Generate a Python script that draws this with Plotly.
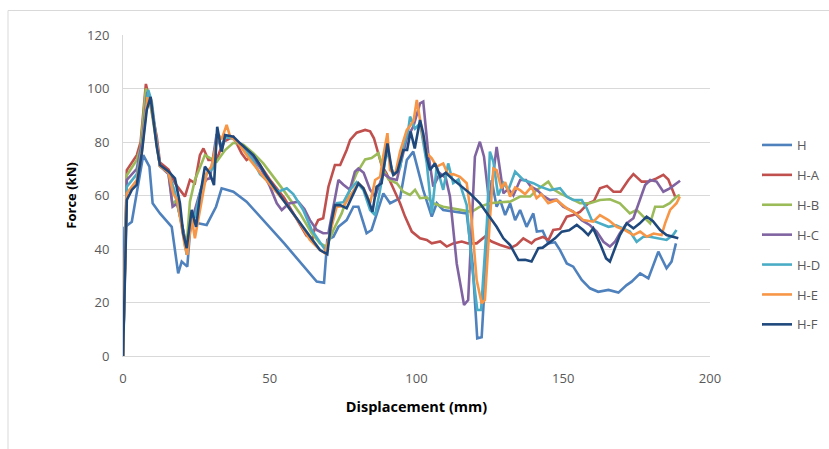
import plotly.graph_objects as go

# ---- data ----
series_names = ["H", "H-A", "H-B", "H-C", "H-D", "H-E", "H-F"]
series_colors = ["#4F81BD", "#C0504D", "#9BBB59", "#8064A2", "#4BACC6", "#F79646", "#1F497D"]

h_x = [0, 0.5, 3, 6.9, 9.0, 10.1, 12.6, 16.6, 18.8, 20.0, 21.9, 23.1, 28.5, 31.7, 33.6, 37.6, 42.1, 46.7, 55, 66, 68.5, 69.6, 71.7, 73.4, 76.2, 78.5, 80.2, 83.0, 84.7, 88.7, 91.0, 94.4, 96.7, 98.9, 102.3, 105.2, 106.9, 109.1, 113.7, 117.1, 119.1, 120.7, 122.2, 124.5, 125.6, 127.3, 128.5, 130.2, 131.9, 133.6, 135.3, 137.5, 139.8, 141.0, 143, 144.9, 147.2, 148.9, 151.2, 153.4, 156.3, 159.1, 161.9, 165.4, 168.8, 171.6, 173.3, 176.2, 179.0, 182.4, 185.2, 186.9, 188.4]
h_y = [0, 48, 50.2, 75.1, 70.8, 57.1, 53.3, 48.3, 30.9, 35.3, 33.4, 50.2, 49, 55.8, 62.7, 61.4, 57.7, 52.1, 42, 27.8, 27.4, 43.4, 44.6, 48.3, 50.8, 55.8, 55.8, 45.9, 47.1, 60.8, 57.1, 59, 73.3, 76.4, 62, 52.1, 57.1, 54.6, 53.9, 53.3, 34.6, 6.6, 7, 50.8, 65.8, 55.8, 58.3, 52.7, 57.1, 50.8, 54.6, 48.3, 53.3, 46.5, 46.8, 42.1, 42.5, 39.6, 34.6, 33.4, 28.4, 25.3, 24, 24.7, 23.7, 26.5, 27.8, 30.9, 29, 39, 32.8, 35.3, 42.1]

ha_x = [0, 1.3, 4.7, 6, 7.8, 9, 11.5, 12.6, 15.5, 17.7, 19.4, 21.1, 22.8, 24.5, 26.2, 27.4, 29.1, 31.9, 34.2, 37.6, 40.4, 42.1, 44.4, 46.7, 50, 55, 60, 62.5, 64.5, 65.4, 66.5, 68.2, 70, 72.2, 74, 76.2, 77.4, 79.6, 82.5, 84.2, 85.5, 88.1, 89.8, 92.1, 94.4, 96.1, 98.4, 101.2, 103.5, 105.2, 108.1, 110.3, 112.5, 115.4, 117.6, 120.5, 123.3, 125.6, 128.5, 131.9, 134.1, 136.4, 139.2, 140.4, 143, 145, 146.6, 148.9, 151.2, 153.4, 155.7, 158.5, 160.5, 162.5, 164.9, 167.1, 169.5, 172.2, 173.9, 176.7, 179, 181.8, 184.1, 185.8, 188.1]
ha_y = [0, 69.5, 75.1, 80, 101.7, 96, 82, 72.3, 69.7, 64.6, 62.1, 59.6, 65.8, 64.6, 75.1, 77.6, 73.3, 73.3, 80.1, 82, 75.8, 73.3, 75.1, 71.4, 66, 59, 50, 45, 43.5, 48.3, 50.8, 51.5, 63.3, 71.4, 71.4, 77, 80.8, 83.5, 84.5, 84, 81.4, 71.4, 68.2, 62.7, 57.1, 52.1, 46.5, 44, 43.4, 42.1, 42.8, 40.9, 42.1, 42.8, 42.1, 42.1, 44.6, 42.8, 41.5, 40.3, 41.5, 44, 42.1, 43.4, 44.5, 43.4, 47.1, 47.5, 52.1, 52.7, 53.9, 57.1, 58, 62.7, 63.6, 61.4, 61.4, 65.8, 68, 65.2, 65.2, 66.4, 67.7, 66, 59.6]

hb_x = [0, 1.3, 4.7, 6, 7.8, 9, 11.5, 12.6, 15.5, 16.9, 18.1, 20.2, 21.7, 22.8, 24.5, 27.9, 29.7, 31.9, 34.8, 37.6, 41, 44.4, 47.8, 54.6, 60.3, 64.3, 67.1, 69.4, 71.7, 74.5, 77.3, 79.6, 82.5, 84.7, 87, 88.7, 90.5, 93.3, 95.5, 97.8, 99.5, 101.2, 103.5, 105.7, 109.1, 112.5, 116, 118.8, 121.6, 125, 128.5, 131.9, 135.3, 138.7, 141, 143.2, 144.9, 146.6, 148.9, 152.3, 155.7, 159.1, 162.5, 165.9, 169.3, 172.7, 175, 177.3, 179.6, 181.3, 184.1, 186.3, 188.6, 189.7]
hb_y = [0, 67.6, 73.3, 78, 100, 96.5, 79, 71, 68.5, 56.4, 58.3, 48, 41.5, 57.7, 65.8, 75.1, 73.9, 72.6, 77, 79.7, 79, 75.8, 72, 62.1, 53.3, 45.9, 42.1, 40.9, 47.1, 53.3, 62.1, 68.3, 73.5, 74, 75.8, 69.5, 66, 64.6, 61.4, 60.2, 62.1, 59, 59.3, 57.1, 55.8, 55.2, 54.6, 53.9, 55.8, 57.1, 57.5, 57.7, 59.6, 59.6, 62.1, 63.9, 65.2, 62.3, 60.8, 59, 57.1, 57.1, 58.3, 58.6, 57.1, 53.3, 54.6, 52.1, 49.6, 55.8, 55.8, 57.1, 59.6, 60.2]

hc_x = [0, 1.3, 4.7, 6.5, 8.3, 9.5, 11.5, 12.6, 15.5, 16.9, 18.5, 20.5, 21.7, 23, 24.5, 26.8, 28.5, 29.6, 31.9, 33.6, 34.8, 37.6, 40, 44.4, 47, 50, 52.4, 54.1, 56.5, 59.7, 61.8, 63.7, 66, 68.2, 70, 71.7, 73.4, 75.1, 77.3, 79, 80.2, 82, 84.2, 85.9, 88.7, 91, 93.3, 96.7, 98.9, 101.2, 102.3, 104, 105.7, 108, 110, 111.4, 113.7, 116.2, 117.6, 119.9, 121.6, 123, 124.5, 125.5, 127.3, 129.6, 131.3, 133, 135.3, 137.3, 139, 141, 143, 145.5, 147.7, 150, 153.4, 156.3, 159.1, 161.4, 163.7, 165.9, 167.6, 169.3, 171.6, 173.9, 176.2, 177.9, 179.6, 181.8, 184.1, 186.3, 189.8]
hc_y = [0, 65.8, 70, 80, 98.7, 95, 80, 71, 68, 55.8, 57, 47, 39.4, 48, 54.6, 63.3, 66.1, 66.4, 83, 77, 82, 81.5, 78.5, 74, 70, 63.5, 57.1, 54.6, 57, 57.7, 55, 50.8, 47.1, 45.9, 46, 55.8, 65.8, 64, 62.1, 68.9, 70.1, 68.5, 62.1, 59.6, 68.2, 66.4, 65.8, 81.4, 85.7, 94.4, 95.1, 75.8, 63.3, 68.3, 66.5, 59.6, 34.6, 19.1, 20.9, 74.5, 80.1, 74.5, 60, 62, 78.2, 60.8, 62.5, 60, 65.8, 65.8, 63.3, 62.1, 60, 58.3, 58.5, 55.8, 54, 50.8, 48.9, 46.5, 42.7, 40.9, 42.7, 45.9, 49.6, 51.5, 58.3, 63.9, 65.8, 65.2, 61.4, 62.7, 65.5]

hd_x = [0, 1.3, 4.7, 6.5, 8.6, 9.8, 11.5, 12.6, 15.5, 17.5, 19.5, 21.7, 23, 24.5, 26.5, 28.5, 30.5, 32.1, 33.6, 35, 38, 41, 44.4, 46.7, 50.1, 52.9, 55.8, 58, 61.4, 64.3, 67.1, 69.4, 71.1, 72.8, 75.1, 77.3, 79.6, 81.9, 84.2, 85.9, 87.6, 89.9, 92.1, 94.4, 95.5, 97.2, 97.8, 99.5, 101.2, 103.5, 105.2, 106.9, 109.1, 110.8, 112.5, 114.3, 117.1, 118.8, 120.7, 122, 124, 125, 126.2, 127.8, 129.6, 131.3, 133.6, 136.4, 139.8, 142.1, 145.5, 148.9, 151.2, 153.4, 156.3, 158, 159.7, 162.5, 165.4, 168, 170.5, 172.7, 175, 177.3, 179.5, 181.8, 185.2, 187.4, 188.6]
hd_y = [0, 63.3, 68, 78, 99.5, 95, 80, 71, 68.5, 62, 52, 37.8, 50, 52, 62, 68, 70, 83, 78, 82, 81, 78, 73, 68, 64.6, 61.4, 62.7, 60.5, 54.6, 47.1, 42.5, 39, 49.6, 57.1, 57.5, 62.1, 65, 62.1, 54.6, 52.7, 62.1, 77, 67.7, 70.5, 78.2, 84.5, 89.5, 85, 87, 72, 53.3, 70.8, 62.1, 72, 64.6, 66, 56.4, 34.6, 17.2, 17.2, 50, 76.4, 72.6, 60, 64.6, 62.1, 68.9, 65.8, 64.6, 63.3, 62, 62.7, 59.6, 58.3, 58.3, 55.2, 50.8, 49.6, 48.3, 48.8, 47.7, 46.5, 42.7, 44.6, 44.6, 44, 43.4, 45.2, 47.1]

he_x = [0, 1.3, 4.7, 6.5, 8.3, 9.5, 11.5, 12.6, 15.5, 17.1, 18.5, 21.1, 21.9, 23.4, 24.5, 26.2, 28.5, 30.2, 32.5, 33.6, 35.3, 36.5, 39, 43.3, 47.8, 54.6, 60.3, 63.7, 67.1, 68.8, 71, 72.8, 75.1, 77.3, 80.2, 82, 84.2, 85.9, 87.6, 88.7, 90.1, 91, 92.7, 94.4, 96.7, 97.8, 99, 100.1, 101, 101.8, 103.5, 105.2, 106.9, 109.1, 110.8, 112.5, 114.8, 117.1, 118.8, 120.5, 122.2, 123.3, 125, 126.2, 127.3, 128.9, 130.2, 131.9, 133.6, 135.3, 137, 139.2, 140.9, 142.5, 144.9, 147.7, 151.2, 154, 156.8, 160.2, 162.5, 165.4, 168.2, 171, 173.9, 176.2, 178.5, 180.8, 183.5, 184.7, 186.4, 188.6, 189.7]
he_y = [0, 60.8, 65.8, 77, 96.3, 96, 79, 71, 68.5, 60.8, 58, 40.9, 37.8, 51.5, 44, 53.9, 68.3, 71, 82.9, 81, 86.4, 82, 80, 73.3, 67, 58.3, 49.6, 43.4, 39.6, 38.4, 48, 55.8, 56, 59.6, 64.6, 62.7, 57.1, 65.8, 67, 75, 83.3, 69.5, 67.7, 76.4, 84.5, 86, 88, 95.7, 90, 84.5, 75.8, 73.9, 70.8, 72, 67.7, 68, 67, 64.6, 50.8, 28.4, 19.7, 21, 50.8, 70.1, 69.5, 62.7, 65, 59.6, 63, 62, 60.5, 63.3, 59, 60.5, 57.1, 58.3, 55.2, 53.5, 50.8, 50.2, 52.7, 50.8, 48.3, 47.1, 45.2, 46.5, 44.6, 45.8, 45.2, 49.6, 54.6, 57.1, 59.6]

hf_x = [0, 1.3, 3, 4.7, 6.4, 8.1, 9.4, 10.4, 11.5, 12.6, 15.5, 17.7, 19.4, 20.5, 21.7, 23.4, 24.9, 26.2, 27.9, 29.6, 31, 32.1, 33.6, 34.8, 37.6, 39.9, 44.4, 46.7, 49, 54.6, 60.3, 64.3, 67.1, 69.6, 70.8, 72.2, 74, 76.2, 78.5, 80.2, 81.9, 83.6, 85, 86.4, 88.1, 90.1, 91.5, 92.1, 93.5, 95.5, 96.8, 98, 99.4, 101.2, 102.3, 103.5, 104.6, 106.3, 108.1, 110, 112, 114.8, 118.2, 121.6, 125, 127.3, 129.6, 131.9, 134.7, 137, 139.2, 141.5, 143, 144.9, 147.2, 149.5, 152, 154.6, 156.8, 158.5, 160.2, 162.5, 164.6, 165.9, 167.6, 169.3, 171.6, 173.9, 176, 178.4, 180.5, 183, 185.2, 187.4, 189.2]
hf_y = [0, 58.3, 62.1, 64.1, 75.8, 92, 96.9, 88, 78.2, 71.4, 69, 66.4, 57.1, 45.9, 40.3, 54.6, 48.3, 59.6, 70.8, 68.3, 63.9, 85.7, 76.4, 82.6, 82, 79.5, 75.1, 71.4, 67, 58.3, 49.6, 43.4, 39.6, 38.1, 49, 56.4, 56.4, 55.2, 60.8, 64.6, 62.7, 58.3, 53.9, 63.3, 64.6, 79.5, 70.1, 67.7, 69, 77, 77, 83.9, 77.6, 88.2, 83.2, 74.5, 69.5, 72, 67, 68.5, 66.4, 63.9, 60.8, 57.1, 52.1, 48.3, 44, 41.5, 35.9, 36, 35.3, 40.3, 40.5, 42.1, 44, 46.5, 47, 49, 47.1, 45.2, 47.7, 42.1, 36.5, 35.3, 40.3, 45.2, 49.6, 47.7, 49.5, 52.1, 50.5, 47.1, 45.2, 44.6, 44]

series_x = [h_x, ha_x, hb_x, hc_x, hd_x, he_x, hf_x]
series_y = [h_y, ha_y, hb_y, hc_y, hd_y, he_y, hf_y]

x_ticks = [0, 50, 100, 150, 200]
y_ticks = [0, 20, 40, 60, 80, 100, 120]
x_title = "Displacement (mm)"
y_title = "Force (kN)"

fig = go.Figure()
for i, name in enumerate(series_names):
    fig.add_trace(go.Scatter(
        x=series_x[i], y=series_y[i], name=name, mode="lines",
        line=dict(color=series_colors[i], width=2.6),
        legendgroup=name,
    ))

W, H = 829, 449
L, R, T, B = 123, 119, 35, 93
pw, ph = W - L - R, H - T - B

def px_to_paper_x(px):
    return (px - L) / pw

def px_to_paper_y(py):
    return (H - B - py) / ph

FONT = "Open Sans, Liberation Sans, sans-serif"
axis_font = dict(family=FONT, size=13, color="#595959")

fig.update_layout(
    width=W, height=H,
    margin=dict(l=L, r=R, t=T, b=B, pad=0, autoexpand=False),
    paper_bgcolor="white", plot_bgcolor="white",
    showlegend=True,
    legend=dict(
        x=px_to_paper_x(757), y=px_to_paper_y(130), xanchor="left", yanchor="top",
        font=dict(family=FONT, size=13, color="#595959"),
        tracegroupgap=10, traceorder="grouped", bgcolor="rgba(0,0,0,0)",
    ),
    xaxis=dict(
        range=[0, 200], tickmode="array", tickvals=x_ticks,
        showgrid=False, zeroline=False, showline=True, linecolor="#d9d9d9", linewidth=1,
        ticks="", tickfont=axis_font, ticklabelstandoff=10,
        title=dict(text="<b>" + x_title + "</b>", font=dict(family=FONT, size=14.5, color="#000000"), standoff=16),
    ),
    yaxis=dict(
        range=[0, 120], tickmode="array", tickvals=y_ticks,
        showgrid=True, gridcolor="#d9d9d9", gridwidth=1, zeroline=False,
        showline=True, linecolor="#d9d9d9", linewidth=1,
        ticks="", tickfont=axis_font, ticklabelstandoff=10,
        title=dict(text="<b>" + y_title + "</b>", font=dict(family=FONT, size=13, color="#000000"), standoff=7),
    ),
    shapes=[
        dict(type="line", xref="paper", yref="paper",
             x0=px_to_paper_x(8), x1=px_to_paper_x(8), y0=px_to_paper_y(10.5), y1=px_to_paper_y(449),
             line=dict(color="#d9d9d9", width=1)),
        dict(type="line", xref="paper", yref="paper",
             x0=px_to_paper_x(8), x1=px_to_paper_x(829), y0=px_to_paper_y(10.5), y1=px_to_paper_y(10.5),
             line=dict(color="#d9d9d9", width=1)),
    ],
)

fig.write_html("out.html", config={"displayModeBar": False},
               post_script="document.body.style.margin='0';document.body.style.padding='0';")
